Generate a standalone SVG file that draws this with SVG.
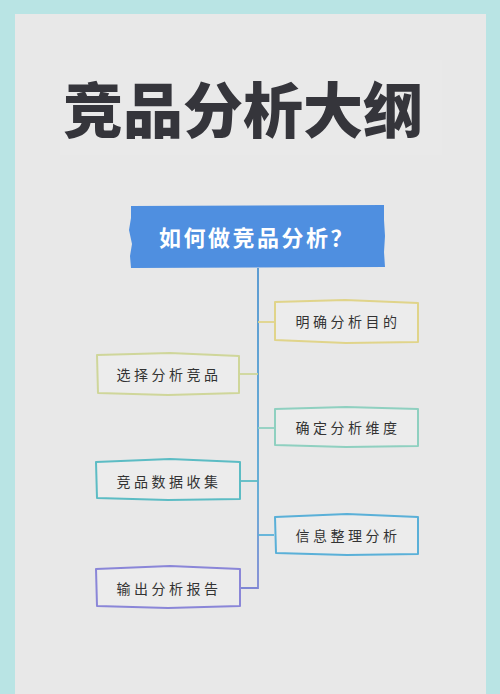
<svg xmlns="http://www.w3.org/2000/svg" width="500" height="694" viewBox="0 0 500 694">
<defs>
<linearGradient id="vline" x1="0" y1="268" x2="0" y2="590" gradientUnits="userSpaceOnUse">
<stop offset="0" stop-color="#4f94d0"/>
<stop offset="0.7" stop-color="#5aa8d4"/>
<stop offset="1" stop-color="#7f86d4"/>
</linearGradient>
</defs>
<style>
.box{fill:#ececec;stroke-width:2;stroke-linejoin:round}
.lbl{font-family:"Noto Sans CJK SC","Noto Sans",sans-serif;font-size:14px;fill:#333;letter-spacing:3.5px;text-anchor:middle}
.conn{fill:none;stroke-width:1.8}
</style>
<rect x="0" y="0" width="500" height="694" fill="#b9e4e4"/>
<rect x="15" y="14" width="471" height="680" fill="#e8e8e8"/>
<rect x="60" y="60" width="382" height="95" fill="#e9e9e9"/>
<g id="title">
<text x="243" y="133" font-family="Noto Sans CJK SC, sans-serif" font-weight="900" font-size="60" fill="#35353b" text-anchor="middle">竞品分析大纲</text>
</g>
<g id="header">
<path d="M131,206 L384,205 L384,220 L385,236 L384,252 L385,267 L131,268 L130,256 L132,244 L129,230 L131,218 Z" fill="#4f8fe0"/>
<text x="257" y="246" font-family="Noto Sans CJK SC, sans-serif" font-weight="700" font-size="22" fill="#ffffff" letter-spacing="2.5" text-anchor="middle">如何做竞品分析？</text>
</g>
<g id="connectors">
<path class="conn" d="M258,268 L258,588 L240,588" stroke="url(#vline)"/>
<path class="conn" d="M258,322 L274,322" stroke="#e0d48a"/>
<path class="conn" d="M239,374 L258,374" stroke="#cfd69a"/>
<path class="conn" d="M258,428 L274,428" stroke="#8fd0c0"/>
<path class="conn" d="M240,481 L258,481" stroke="#5cbcc4"/>
<path class="conn" d="M258,535 L274,535" stroke="#5ab0d8"/>
</g>
<g id="n1">
<path class="box" stroke="#e0d48a" d="M275,302 L345,300 L418,303 L418,342 L346,343 L275,340 Z"/>
<text class="lbl" x="348" y="327">明确分析目的</text>
</g>
<g id="n2">
<path class="box" stroke="#cfd69a" d="M97,355 L170,353 L239,356 L239,393 L168,395 L98,393 Z"/>
<text class="lbl" x="169" y="380">选择分析竞品</text>
</g>
<g id="n3">
<path class="box" stroke="#8fd0c0" d="M275,409 L346,407 L418,409 L418,446 L346,447 L275,445 Z"/>
<text class="lbl" x="348" y="433">确定分析维度</text>
</g>
<g id="n4">
<path class="box" stroke="#5cbcc4" d="M96,462 L170,459 L240,462 L240,499 L168,500 L97,498 Z"/>
<text class="lbl" x="169" y="487">竞品数据收集</text>
</g>
<g id="n5">
<path class="box" stroke="#5ab0d8" d="M275,517 L347,514 L418,517 L418,554 L347,555 L276,553 Z"/>
<text class="lbl" x="348" y="541">信息整理分析</text>
</g>
<g id="n6">
<path class="box" stroke="#8a86d8" d="M96,569 L170,566 L240,569 L240,606 L168,608 L97,606 Z"/>
<text class="lbl" x="169" y="594">输出分析报告</text>
</g>
</svg>
